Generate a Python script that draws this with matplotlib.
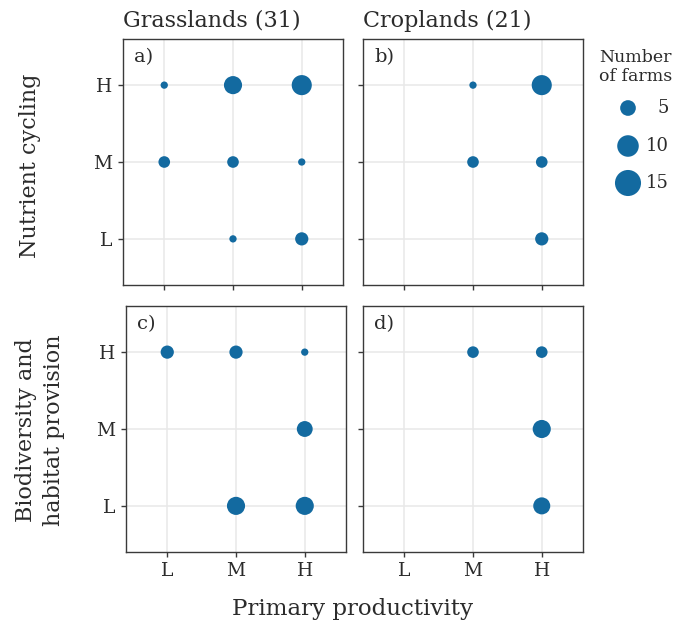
import matplotlib
matplotlib.use("Agg")
import matplotlib.pyplot as plt
import numpy as np

# Categorias (L/M/H) e contagens de fazendas por painel
levels = ["L", "M", "H"]

# a) Pastagens — ciclagem de nutrientes
grass_nc_x = ["L", "M", "H", "L", "M", "H", "M", "H"]
grass_nc_y = ["H", "H", "H", "M", "M", "M", "L", "L"]
grass_nc_n = [1, 8, 10, 3, 3, 1, 1, 4]

# b) Lavouras — ciclagem de nutrientes
crop_nc_x = ["M", "H", "M", "H", "H"]
crop_nc_y = ["H", "H", "M", "M", "L"]
crop_nc_n = [1, 10, 3, 3, 4]

# c) Pastagens — biodiversidade e habitat
grass_bd_x = ["L", "M", "H", "H", "M", "H"]
grass_bd_y = ["H", "H", "H", "M", "L", "L"]
grass_bd_n = [4, 4, 1, 6, 8, 8]

# d) Lavouras — biodiversidade e habitat
crop_bd_x = ["M", "H", "H", "H"]
crop_bd_y = ["H", "H", "M", "L"]
crop_bd_n = [3, 3, 8, 7]

legend_n = [5, 10, 15]

DOT = "#136aa0"
GRID = "#e8e8e8"
FRAME = "#3a3a3a"
TEXT = "#2b2b2b"
FONT = "DejaVu Serif"

plt.rcParams.update({"font.family": FONT, "text.color": TEXT})

W, H = 673, 630
fig = plt.figure(figsize=(W / 100, H / 100), dpi=100)


def size_of(n):
    # diâmetro em px proporcional a sqrt(n), como scale_size do ggplot
    n = np.asarray(n, dtype=float)
    d = 7.3 + 17.0 * (np.sqrt(n) - 1) / (np.sqrt(15) - 1)
    return (d * 0.72) ** 2


def panel(left, top, xs, ys, ns, tag, ylabels):
    ax = fig.add_axes([left / W, (H - top - 246) / H, 220 / W, 246 / H])
    idx = {v: i + 1 for i, v in enumerate(levels)}
    ax.scatter([idx[v] for v in xs], [idx[v] for v in ys], s=size_of(ns),
               color=DOT, edgecolor="none", zorder=3)
    ax.set_xlim(0.4, 3.6)
    ax.set_ylim(0.4, 3.6)
    ax.set_xticks([1, 2, 3])
    ax.set_yticks([1, 2, 3])
    ax.grid(True, color=GRID, linewidth=1.1, zorder=0)
    ax.set_axisbelow(True)
    for sp in ax.spines.values():
        sp.set_color(FRAME)
        sp.set_linewidth(1.0)
    ax.tick_params(length=3.5, width=1.0, color=FRAME, labelcolor=TEXT,
                   labelsize=13.5, pad=4)
    ax.set_xticklabels(levels)
    ax.set_yticklabels(levels if ylabels else [])
    ax.text(0.05, 0.965, tag, transform=ax.transAxes, ha="left", va="top",
            fontsize=14)
    return ax


ax_a = panel(123, 39, grass_nc_x, grass_nc_y, grass_nc_n, "a)", True)
ax_b = panel(363, 39, crop_nc_x, crop_nc_y, crop_nc_n, "b)", False)
ax_c = panel(126, 306, grass_bd_x, grass_bd_y, grass_bd_n, "c)", True)
ax_d = panel(363, 306, crop_bd_x, crop_bd_y, crop_bd_n, "d)", False)

ax_a.set_xticklabels([])
ax_b.set_xticklabels([])

ax_a.set_title("Grasslands (31)", loc="left", fontsize=16, pad=9, color=TEXT)
ax_b.set_title("Croplands (21)", loc="left", fontsize=16, pad=9, color=TEXT)

fig.text(30 / W, 1 - 166 / H, "Nutrient cycling", rotation=90,
         ha="center", va="center", fontsize=16)
fig.text(40 / W, 1 - 430 / H, "Biodiversity and\nhabitat provision",
         rotation=90, ha="center", va="center", fontsize=16,
         linespacing=1.3)
fig.text(353 / W, 1 - 609 / H, "Primary productivity", ha="center",
         va="center", fontsize=16.5)

# Legenda de tamanhos
fig.text(599 / W, 1 - 67 / H, "Number\nof farms", ha="left", va="center",
         fontsize=12.5, linespacing=1.1)
leg = fig.add_axes([0, 0, 1, 1], facecolor="none")
leg.set_xlim(0, W)
leg.set_ylim(H, 0)
leg.axis("off")
leg_y = [108, 146, 183]
leg.scatter([628] * len(legend_n), leg_y, s=size_of(legend_n) * 1.15,
            color=DOT, edgecolor="none")
for y, n in zip(leg_y, legend_n):
    leg.text(669, y, str(n), ha="right", va="center", fontsize=13)

fig.savefig("out.png", dpi=100)
